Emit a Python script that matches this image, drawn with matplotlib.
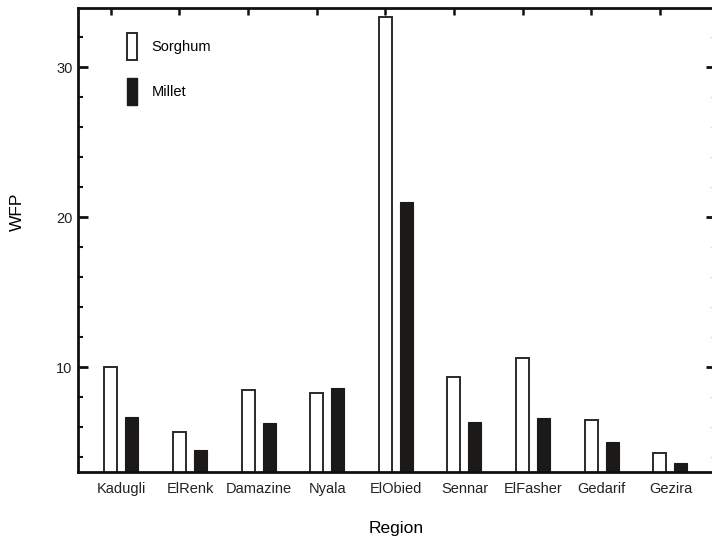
import matplotlib
matplotlib.use("Agg")
import matplotlib.pyplot as plt
from matplotlib.ticker import MultipleLocator
from matplotlib.patches import Patch
import numpy as np

plt.rcParams['font.family'] = ['Liberation Sans', 'DejaVu Sans']

regions = ["Kadugli", "ElRenk", "Damazine", "Nyala", "ElObied", "Sennar", "ElFasher", "Gedarif", "Gezira"]
sorghum = [10.0, 5.7, 8.5, 8.3, 33.35, 9.36, 10.6, 6.5, 4.25]
millet = [6.65, 4.47, 6.3, 8.62, 21.0, 6.35, 6.58, 5.02, 3.63]

W, H = 712, 541
fig = plt.figure(figsize=(W / 100, H / 100), dpi=100)
left_px, right_px, bot_px, top_px = 78, 713, 472, 8
ax = fig.add_axes([left_px / W, 1 - bot_px / H, (right_px - left_px) / W, (bot_px - top_px) / H])

x = np.arange(len(regions))
bw = 0.19
ax.bar(x - 0.155, sorghum, width=bw, color='white', edgecolor='#2a2a2a', linewidth=1.4, zorder=2)
ax.bar(x + 0.15, millet, width=bw, color='#1c1a18', edgecolor='#1c1a18', linewidth=0.8, zorder=2)

ax.set_xlim(-0.634, 8.62)
ax.set_ylim(3, 33.95)

for s in ['left', 'bottom', 'top']:
    ax.spines[s].set_linewidth(2)
    ax.spines[s].set_color('#111111')
ax.spines['right'].set_visible(False)

ax.set_xticks(x)
ax.set_xticklabels(regions, fontsize=10.5, color='#222222')
ax.tick_params(axis='x', length=0, pad=7)

ax.yaxis.set_major_locator(MultipleLocator(10))
ax.yaxis.set_minor_locator(MultipleLocator(2))
ax.tick_params(axis='y', which='major', direction='in', length=7, width=2, labelsize=10.5, pad=4,
               color='#111111', labelcolor='#222222')
ax.tick_params(axis='y', which='minor', direction='in', length=3.5, width=1.5, color='#111111')

# top ticks
axt = ax.twiny()
axt.set_xlim(ax.get_xlim())
axt.set_xticks(x - 0.155)
axt.tick_params(axis='x', direction='in', length=5, width=1.8, labeltop=False, color='#111111')
for s in axt.spines.values():
    s.set_visible(False)

# right ticks
axr = ax.twinx()
axr.set_ylim(ax.get_ylim())
axr.yaxis.set_major_locator(MultipleLocator(10))
axr.yaxis.set_minor_locator(MultipleLocator(2))
axr.tick_params(axis='y', which='major', direction='in', length=5, width=2, labelright=False, color='#111111')
axr.tick_params(axis='y', which='minor', direction='in', length=2, width=1, color='#dddddd')
for s in axr.spines.values():
    s.set_visible(False)

handles = [Patch(facecolor='white', edgecolor='#2a2a2a', linewidth=1.4, label='Sorghum'),
           Patch(facecolor='#1c1a18', edgecolor='#1c1a18', label='Millet')]
ax.legend(handles=handles, loc='upper left',
          bbox_to_anchor=((127 - left_px) / (right_px - left_px), (bot_px - 33) / (bot_px - top_px)),
          frameon=False, fontsize=10.5, handlelength=0.7, handleheight=2.42,
          labelspacing=1.3, handletextpad=1.0, borderpad=0, borderaxespad=0)

fig.text(17.5 / W, 1 - 212 / H, "WFP", rotation=90, ha='center', va='center', fontsize=12.5)
fig.text(396 / W, 1 - 529 / H, "Region", ha='center', va='center', fontsize=12.5)

fig.savefig("out.png", dpi=100)
